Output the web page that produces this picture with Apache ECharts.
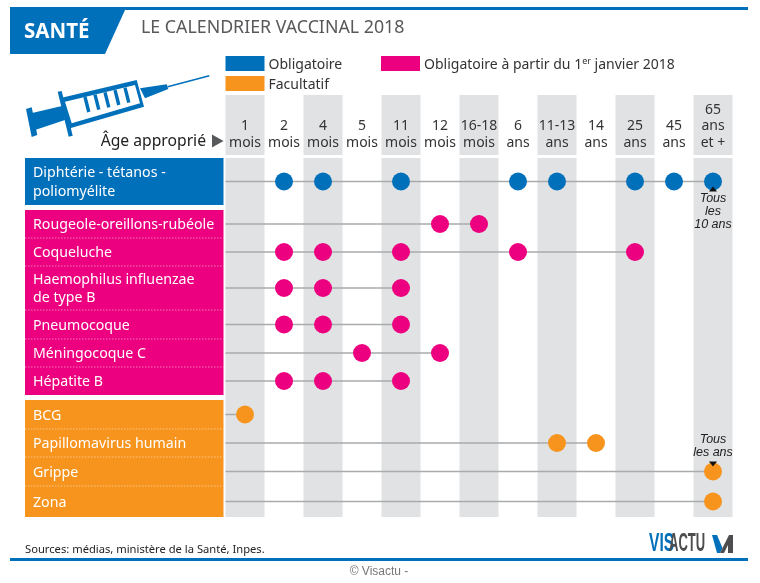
<!DOCTYPE html>
<html lang="fr"><head><meta charset="utf-8">
<style>html,body{margin:0;padding:0;background:#fff}#c{width:760px;height:583px}</style>
<script src="https://cdn.jsdelivr.net/npm/echarts@6/dist/echarts.min.js"></script>
</head><body><div id="c"></div>
<script>
// ---- data ----
const ages = ['1\nmois','2\nmois','4\nmois','5\nmois','11\nmois','12\nmois','16-18\nmois','6\nans','11-13\nans','14\nans','25\nans','45\nans','65\nans\net +'];
const obligatoireNames = ['Diphtérie - tétanos -\npoliomyélite'];
const obligatoireDoses = [[1,2,4,7,8,10,11,12]];
const nouveauNames = ['Rougeole-oreillons-rubéole','Coqueluche','Haemophilus influenzae\nde type B','Pneumocoque','Méningocoque C','Hépatite B'];
const nouveauDoses = [[5,6],[1,2,4,7,10],[1,2,4],[1,2,4],[3,5],[1,2,4]];
const facultatifNames = ['BCG','Papillomavirus humain','Grippe','Zona'];
const facultatifDoses = [[0],[8,9],[12],[12]];
const seriesNames = ['Obligatoire','Obligatoire à partir du 1er janvier 2018','Facultatif'];

// ---- layout ----
const colors = ['#0070ba','#ec007f','#f7941d'];
const groupRowHeights = [[47],[28,28,44,29,28,28],[29,28,29,31]];
const groupGap = 5;
const UI = '"Noto Sans","Open Sans",sans-serif';
const groups = [
  {names:obligatoireNames, doses:obligatoireDoses},
  {names:nouveauNames, doses:nouveauDoses},
  {names:facultatifNames, doses:facultatifDoses}
];
const rows = []; let cursor = 0;
groups.forEach((g,gi)=>{
  g.names.forEach((name,i)=>{
    const h = groupRowHeights[gi][i];
    rows.push({name, group:gi, first:i===0, top:cursor, bottom:cursor+h, mid:cursor+h/2, doses:g.doses[i]});
    cursor += h;
  });
  cursor += groupGap;
});
const yMax = cursor - groupGap;
const gridLeft = 225.5, gridTop = 158, colW = 39;

const bandSeries = {
  type:'custom', silent:true, z:1,
  data: ages.map((_,i)=>[i,0]).filter(d=>d[0]%2===0),
  renderItem(p,api){
    const x = api.coord([api.value(0),0])[0], w = api.size([1,0])[0];
    const rect = (a,b)=>{
      const t = api.coord([0,a])[1], e = api.coord([0,b])[1];
      return {type:'rect',shape:{x:x-w/2,y:t,width:w,height:e-t},style:{fill:'#e1e2e4'}};
    };
    return {type:'group',children:[rect(-63,-3),rect(0,yMax)]};
  }
};
const rowSeries = {
  type:'custom', silent:true, z:2,
  data: rows.map((_,i)=>[0,i]),
  renderItem(p,api){
    const r = rows[p.dataIndex];
    const t = api.coord([0,r.top])[1], b = api.coord([0,r.bottom])[1], m = api.coord([0,r.mid])[1];
    const x0 = 25, x1 = 223.5;
    const kids = [
      {type:'rect',shape:{x:x0,y:t,width:x1-x0,height:b-t},style:{fill:colors[r.group]}},
      {type:'text',x:33,y:m+1,style:{text:r.name,fill:'#fff',font:'14.2px '+UI,lineHeight:18.5,verticalAlign:'middle',align:'left'}}
    ];
    if(!r.first) kids.push({type:'line',shape:{x1:x0,y1:t,x2:x1,y2:t},style:{stroke:'rgba(255,255,255,0.6)',lineWidth:0.8,lineDash:[1.5,1.5]}});
    return {type:'group',children:kids};
  }
};
const lineSeries = {
  type:'custom', silent:true, z:3,
  data: rows.map((_,i)=>[0,i]),
  renderItem(p,api){
    const r = rows[p.dataIndex];
    const w = api.size([1,0])[0];
    const s = api.coord([0,r.mid]), e = api.coord([Math.max(...r.doses),r.mid]);
    return {type:'line',shape:{x1:s[0]-w/2,y1:s[1],x2:e[0],y2:e[1]},style:{stroke:'#a8aaac',lineWidth:1.5}};
  }
};
const notes = [
  {row:0, text:'Tous\nles\n10 ans', below:true},
  {row:9, text:'Tous\nles ans', below:false}
];
const noteSeries = {
  type:'custom', silent:true, z:6,
  data: notes.map((_,i)=>[12,i]),
  renderItem(p,api){
    const n = notes[p.dataIndex];
    const c = api.coord([12,rows[n.row].mid]);
    const d = n.below ? 1 : -1;
    const tip = c[1]+d*5, base = c[1]+d*10;
    return {type:'group',children:[
      {type:'polygon',shape:{points:[[c[0],tip],[c[0]-4,base],[c[0]+4,base]]},style:{fill:'#111'}},
      {type:'text',x:c[0],y:n.below?c[1]+11:c[1]-12,style:{text:n.text,fill:'#222',font:'italic 12.5px "Liberation Sans",Arial,sans-serif',lineHeight:13,align:'center',verticalAlign:n.below?'top':'bottom'}}
    ]};
  }
};
const dots = colors.map((color,gi)=>({
  type:'scatter', name:seriesNames[gi], z:5, symbol:'circle', symbolSize:18,
  itemStyle:{color,opacity:1}, silent:true,
  data: rows.filter(r=>r.group===gi).flatMap(r=>r.doses.map(d=>[d,r.mid]))
}));

const legendBase = {orient:'horizontal',padding:0,itemWidth:39,itemHeight:15,icon:'rect',selectedMode:false,
  textStyle:{fontFamily:UI,fontSize:14,color:'#333',padding:[3,0,0,-1],
    rich:{s:{fontFamily:UI,fontSize:9,color:'#333',verticalAlign:'top',padding:[0,0,7,0]},t:{fontFamily:UI,fontSize:14,color:'#333'}}}};

const syringeBlue = '#0070ba';
const poly = (points,fill)=>({type:'polygon',shape:{points},style:{fill}});
const grad = [[85,97],[95,94.7],[105,92.3],[115,90],[125,87.7]].map(p=>({type:'line',shape:{x1:p[0],y1:p[1],x2:p[0]+3.8,y2:p[1]+15},style:{stroke:syringeBlue,lineWidth:3.4}}));

const option = {
  animation:false, backgroundColor:'#fff',
  title:{text:'LE CALENDRIER VACCINAL 2018',left:141,top:19,padding:0,textStyle:{fontFamily:UI,fontSize:17.8,fontWeight:'normal',color:'#58595b'}},
  grid:{left:gridLeft,top:gridTop,width:colW*ages.length,height:yMax,containLabel:false},
  legend:[
    Object.assign({},legendBase,{left:225.5,top:56,data:[seriesNames[0]]}),
    Object.assign({},legendBase,{left:381,top:56,data:[seriesNames[1]],formatter:()=>'{t|Obligatoire à partir du 1}{s|er}{t| janvier 2018}'}),
    Object.assign({},legendBase,{left:225.5,top:76,data:[seriesNames[2]]})
  ],
  xAxis:{type:'category',z:10,data:ages,position:'top',boundaryGap:true,axisLine:{show:false},axisTick:{show:false},splitLine:{show:false},
    axisLabel:{interval:0,margin:7,hideOverlap:false,fontFamily:UI,fontSize:14,color:'#333',lineHeight:16.5}},
  yAxis:{type:'value',inverse:true,min:0,max:yMax,show:false,splitLine:{show:false}},
  series:[bandSeries,rowSeries,lineSeries,...dots,noteSeries],
  graphic:[
    {type:'rect',shape:{x:10,y:7,width:738,height:3},style:{fill:'#0070ba'}},
    {type:'rect',shape:{x:10,y:558,width:738,height:3},style:{fill:'#0070ba'}},
    poly([[10,10],[125,10],[105,54],[10,54]],'#0070ba'),
    {type:'text',x:24,y:32.5,style:{text:'SANTÉ',fill:'#fff',font:'bold 20.5px '+UI,verticalAlign:'middle'}},
    {type:'group',children:[
      poly([[26,109],[31.7,107.3],[37.3,135],[31.7,137]],syringeBlue),
      poly([[32,113],[62,106],[65,120],[35,130]],syringeBlue),
      poly([[57.7,91.7],[61.7,91],[72.7,135.7],[68.7,136.7]],syringeBlue),
      poly([[61.7,97.7],[136.7,80],[144,106.7],[70,128.3]],syringeBlue),
      poly([[65,101.7],[135,85],[140,103.3],[71.7,123.3]],'#fff'),
      ...grad,
      poly([[140,88.3],[166.7,84.3],[168.3,89],[145,98.3]],syringeBlue),
      {type:'line',shape:{x1:167.7,y1:86.7,x2:209.3,y2:75.7},style:{stroke:syringeBlue,lineWidth:1.5}}
    ]},
    {type:'text',x:206,y:141.5,style:{text:'Âge approprié',fill:'#222',font:'15.7px '+UI,align:'right',verticalAlign:'middle'}},
    poly([[212,134.5],[223.5,141],[212,147.5]],'#58595b'),
    {type:'text',x:25,y:550,style:{text:'Sources: médias, ministère de la Santé, Inpes.',fill:'#222',font:'11.2px '+UI,verticalAlign:'middle'}},
    {type:'text',x:649,y:544,scaleX:0.6,style:{text:'VIS',fill:'#0070ba',font:'bold 26px "Liberation Sans",Arial,sans-serif',verticalAlign:'middle'}},
    {type:'text',x:669,y:544,scaleX:0.5,style:{text:'ACTU',fill:'#4d4d4f',font:'bold 26px "Liberation Sans",Arial,sans-serif',verticalAlign:'middle'}},
    poly([[712,535],[717,535],[722.5,548],[720,553],[717,553]],'#0070ba'),
    poly([[720,553],[729,535],[733,535],[733,553],[728,553],[728,545],[724,553]],'#4d4d4f'),
    {type:'text',x:379,y:572,style:{text:'© Visactu -',fill:'#777',font:'12px "Liberation Sans",Arial,sans-serif',align:'center',verticalAlign:'middle'}}
  ]
};
echarts.init(document.getElementById('c'),null,{renderer:'canvas'}).setOption(option);
</script></body></html>
